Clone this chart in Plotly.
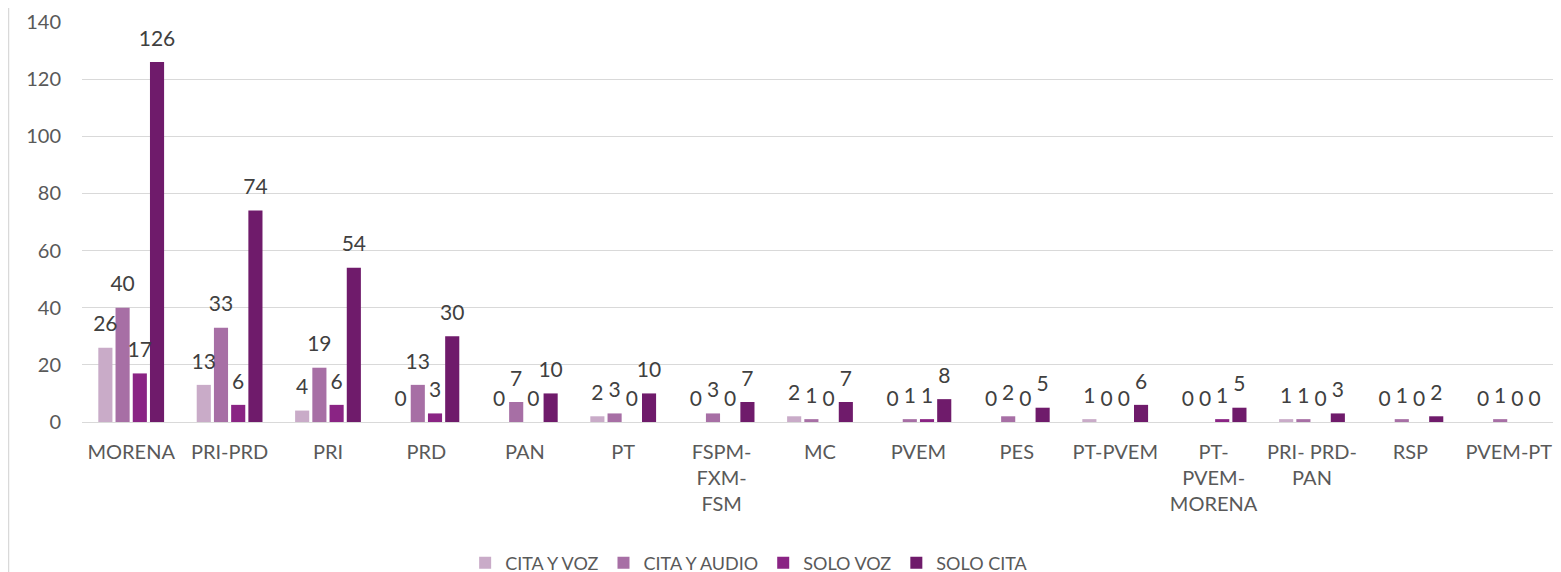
import plotly.graph_objects as go

categories = ["MORENA", "PRI-PRD", "PRI", "PRD", "PAN", "PT", "FSPM-<br>FXM-<br>FSM", "MC", "PVEM",
              "PES", "PT-PVEM", "PT-<br>PVEM-<br>MORENA", "PRI- PRD-<br>PAN", "RSP", "PVEM-PT"]
series_names = ["CITA Y VOZ", "CITA Y AUDIO", "SOLO VOZ", "SOLO CITA"]
cita_y_voz = [26, 13, 4, 0, 0, 2, 0, 2, 0, 0, 1, 0, 1, 0, 0]
cita_y_audio = [40, 33, 19, 13, 7, 3, 3, 1, 1, 2, 0, 0, 1, 1, 1]
solo_voz = [17, 6, 6, 3, 0, 0, 0, 0, 1, 0, 0, 1, 0, 0, 0]
solo_cita = [126, 74, 54, 30, 10, 10, 7, 7, 8, 5, 6, 5, 3, 2, 0]
y_ticks = [0, 20, 40, 60, 80, 100, 120, 140]

series_values = [cita_y_voz, cita_y_audio, solo_voz, solo_cita]
colors = ["#C9ABC8", "#A76FA5", "#8A2484", "#6F1B6B"]

FONT = "Lato"
fig = go.Figure()
for name, vals, col in zip(series_names, series_values, colors):
    fig.add_trace(go.Bar(x=categories, y=vals, name=name, marker_color=col,
                         marker_line_width=0, hoverinfo="x+y+name"))
for name, vals in zip(series_names, series_values):
    fig.add_trace(go.Scatter(x=categories, y=vals, mode="markers+text", text=[str(v) for v in vals],
                             textposition="top center", marker=dict(size=16, opacity=0),
                             textfont=dict(family=FONT, size=21, color="#404040"),
                             showlegend=False, hoverinfo="skip", cliponaxis=False))

fig.update_layout(
    width=1561, height=572,
    margin=dict(l=74, r=11, t=14, b=158, autoexpand=False),
    paper_bgcolor="white", plot_bgcolor="white",
    barmode="group", bargap=0.3, bargroupgap=0.18,
    scattermode="group",
    font=dict(family=FONT, size=20, color="#595959"),
    legend=dict(orientation="h", x=0.452, xanchor="center", y=-0.3525, yanchor="middle",
                font=dict(family=FONT, size=18, color="#595959"), traceorder="normal",
                itemwidth=30),
    xaxis=dict(showgrid=False, showline=False, ticks="", tickangle=0, ticklabelstandoff=16,
               automargin=False, tickfont=dict(family=FONT, size=20, color="#595959")),
    yaxis=dict(range=[0, 140], tickvals=y_ticks, showgrid=True, gridcolor="#D9D9D9", gridwidth=1,
               zeroline=True, zerolinecolor="#D9D9D9", zerolinewidth=1, showline=False,
               automargin=False, ticklabelstandoff=20,
               tickfont=dict(family=FONT, size=20, color="#595959")),
    shapes=[dict(type="line", xref="paper", yref="paper", x0=-0.0498, x1=-0.0498, y0=-0.45, y1=1.1,
                 line=dict(color="#D9D9D9", width=1.5))],
)

fig.write_html("out.html")
